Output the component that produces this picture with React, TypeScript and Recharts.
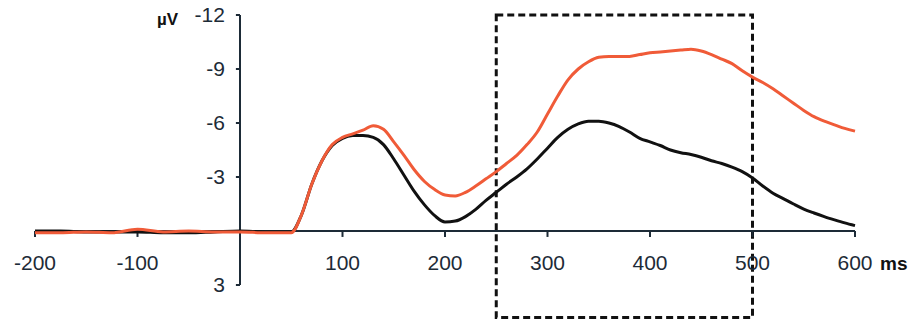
import React from 'react';
import { LineChart, Line, XAxis, YAxis, ReferenceLine, ReferenceArea } from 'recharts';

const times = [-200, -175, -150, -125, -100, -75, -50, -25, 0, 25, 50, 60, 70, 80, 90, 100, 110, 120, 130, 140, 150, 160, 170, 180, 190, 200, 210, 220, 230, 240, 250, 260, 270, 280, 290, 300, 310, 320, 330, 340, 350, 360, 370, 380, 390, 400, 410, 420, 430, 440, 450, 460, 470, 480, 490, 500, 510, 520, 530, 540, 550, 560, 570, 580, 590, 600];

const redSeries = [0.1, 0.1, 0.05, 0.1, -0.1, 0.05, 0.0, 0.05, 0.05, 0.1, 0.1, -0.9, -2.6, -3.9, -4.8, -5.2, -5.4, -5.6, -5.85, -5.65, -4.95, -4.2, -3.4, -2.75, -2.3, -2.0, -1.95, -2.15, -2.5, -2.9, -3.3, -3.75, -4.2, -4.8, -5.5, -6.5, -7.5, -8.4, -9.0, -9.4, -9.65, -9.7, -9.7, -9.7, -9.8, -9.9, -9.95, -10.0, -10.05, -10.1, -10.0, -9.8, -9.55, -9.3, -8.9, -8.55, -8.25, -7.9, -7.5, -7.1, -6.7, -6.35, -6.1, -5.9, -5.7, -5.55];

const blackSeries = [0.0, 0.0, 0.05, 0.05, 0.05, 0.1, 0.1, 0.05, 0.0, 0.05, 0.05, -0.9, -2.6, -3.9, -4.75, -5.15, -5.3, -5.3, -5.2, -4.8, -4.0, -3.1, -2.2, -1.45, -0.85, -0.5, -0.55, -0.8, -1.2, -1.7, -2.15, -2.6, -3.0, -3.45, -4.0, -4.6, -5.2, -5.65, -5.95, -6.1, -6.1, -6.0, -5.8, -5.5, -5.15, -4.95, -4.75, -4.5, -4.35, -4.25, -4.1, -3.9, -3.75, -3.55, -3.3, -2.95, -2.5, -2.1, -1.8, -1.5, -1.22, -1.0, -0.8, -0.62, -0.45, -0.3];

const xTicks = [-200, -100, 0, 100, 200, 300, 400, 500, 600];
const xTickLabels = ['-200', '-100', '', '100', '200', '300', '400', '500', '600'];
const yTicks = [-12, -9, -6, -3, 3];
const yTickLabels = ['-12', '-9', '-6', '-3', '3'];

const windowStart = 250;
const windowEnd = 500;
const windowTop = -12;
const windowBottom = 4.8;

const data = times.map((t, i) => ({ t, red: redSeries[i], black: blackSeries[i] }));

const AXIS = '#1d2b37';
const FONT = 'Liberation Sans, Arial, Helvetica, sans-serif';

export default function App() {
  return (
    <div style={{ position: 'relative', width: 901, height: 320, marginTop: -8 }}>
      <LineChart width={901} height={320} data={data} margin={{ top: 15, right: 54, bottom: 35, left: 27 }}>
        <XAxis type="number" dataKey="t" domain={[-200, 600]} hide />
        <YAxis type="number" domain={[-12, 3]} reversed hide />
        <ReferenceLine
          segment={[{ x: -200, y: 0 }, { x: 600, y: 0 }]}
          stroke={AXIS}
          strokeWidth={2}
          ifOverflow="visible"
        />
        <ReferenceLine
          segment={[{ x: 0, y: -12 }, { x: 0, y: 3 }]}
          stroke={AXIS}
          strokeWidth={2}
          ifOverflow="visible"
        />
        {xTicks.map((t, i) => (
          <ReferenceLine
            key={'xt' + t}
            segment={[{ x: t, y: 0 }, { x: t, y: 0.33 }]}
            stroke={AXIS}
            strokeWidth={2}
            ifOverflow="visible"
            label={{ value: xTickLabels[i], position: 'bottom', offset: 18, fill: AXIS, fontSize: 21, fontFamily: FONT }}
          />
        ))}
        {yTicks.map((v, i) => (
          <ReferenceLine
            key={'yt' + v}
            segment={[{ x: -4, y: v }, { x: 0, y: v }]}
            stroke={AXIS}
            strokeWidth={2}
            ifOverflow="visible"
            label={{ value: yTickLabels[i], position: 'left', offset: 11, fill: AXIS, fontSize: 21, fontFamily: FONT }}
          />
        ))}
        <Line type="monotone" dataKey="black" stroke="#111111" strokeWidth={3} dot={false} isAnimationActive={false} />
        <Line type="monotone" dataKey="red" stroke="#f05b38" strokeWidth={3} dot={false} isAnimationActive={false} />
        <ReferenceArea
          x1={windowStart}
          x2={windowEnd}
          y1={windowTop}
          y2={windowBottom}
          ifOverflow="visible"
          fill="none"
          fillOpacity={0}
          stroke="#111111"
          strokeWidth={3}
          strokeDasharray="7 4"
        />
      </LineChart>
      <span style={{ position: 'absolute', left: 149, top: 11, fontFamily: FONT, fontWeight: 'bold', fontSize: 17, lineHeight: 1, color: '#111' }}>µV</span>
      <span style={{ position: 'absolute', left: 872, top: 254, fontFamily: FONT, fontWeight: 'bold', fontSize: 19, lineHeight: 1, color: '#111' }}>ms</span>
    </div>
  );
}
